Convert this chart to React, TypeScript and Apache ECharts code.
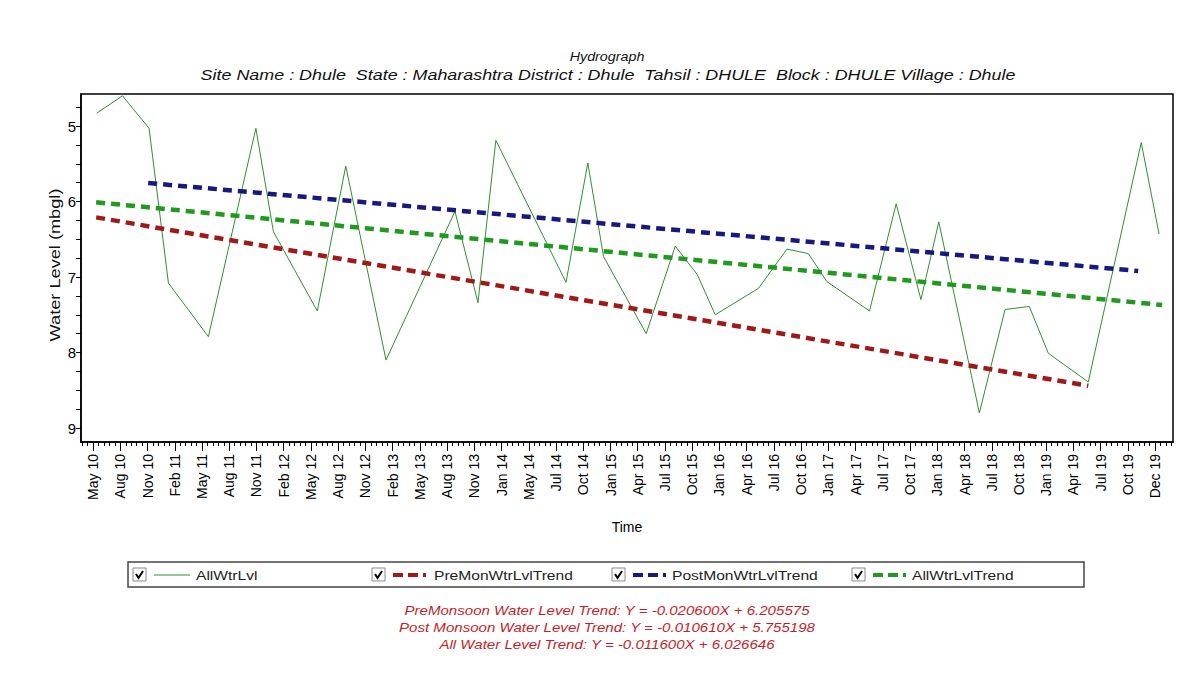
import React, { useEffect, useRef } from 'react';
import * as echarts from 'echarts';

const titleText = 'Hydrograph';
const subtitleText =
  'Site Name : Dhule  State : Maharashtra District : Dhule  Tahsil : DHULE  Block : DHULE Village : Dhule';

const tickLabels = [
  'May 10', 'Aug 10', 'Nov 10', 'Feb 11', 'May 11', 'Aug 11', 'Nov 11', 'Feb 12', 'May 12', 'Aug 12',
  'Nov 12', 'Feb 13', 'May 13', 'Aug 13', 'Nov 13', 'Jan 14', 'May 14', 'Jul 14', 'Oct 14', 'Jan 15',
  'Apr 15', 'Jul 15', 'Oct 15', 'Jan 16', 'Apr 16', 'Jul 16', 'Oct 16', 'Jan 17', 'Apr 17', 'Jul 17',
  'Oct 17', 'Jan 18', 'Apr 18', 'Jul 18', 'Oct 18', 'Jan 19', 'Apr 19', 'Jul 19', 'Oct 19', 'Dec 19',
];

const levelDates = [
  '2010-06-02', '2010-08-26', '2010-11-22', '2011-01-25', '2011-06-06', '2011-11-10', '2012-01-07',
  '2012-05-31', '2012-09-02', '2013-01-13', '2013-08-29', '2013-11-13', '2014-01-11', '2014-08-31',
  '2014-11-11', '2015-01-02', '2015-05-23', '2015-08-27', '2015-11-08', '2016-01-06', '2016-05-28',
  '2016-08-30', '2016-11-09', '2017-01-09', '2017-05-30', '2017-08-26', '2017-11-16', '2018-01-14',
  '2018-05-28', '2018-08-21', '2018-11-09', '2019-01-11', '2019-05-23', '2019-11-14', '2020-01-12',
];
const levelValues = [
  4.83, 4.6, 5.03, 7.08, 7.79, 5.03, 6.4,
  7.45, 5.53, 8.1, 6.13, 7.34, 5.19, 7.07,
  5.49, 6.73, 7.75, 6.59, 6.97, 7.5, 7.15,
  6.63, 6.69, 7.06, 7.45, 6.03, 7.3, 6.27,
  8.8, 7.43, 7.39, 8.01, 8.39, 5.22, 6.43,
];

const preMonTrendDates = ['2010-05-31', '2019-05-23'];
const preMonTrendValues = [6.21, 8.44];
const postMonTrendDates = ['2010-11-19', '2019-11-04'];
const postMonTrendValues = [5.755, 6.92];
const allTrendDates = ['2010-05-31', '2020-01-22'];
const allTrendValues = [6.01, 7.37];

const yLabelValues = [5, 6, 7, 8, 9];
const yTickValues = [4.75, 5, 5.25, 5.5, 5.75, 6, 6.25, 6.5, 6.75, 7, 7.25, 7.5, 7.75, 8, 8.25, 8.5, 8.75, 9];

const seriesNames = ['AllWtrLvl', 'PreMonWtrLvlTrend', 'PostMonWtrLvlTrend', 'AllWtrLvlTrend'];
const seriesColors = ['#2f8f2f', '#a01818', '#18187e', '#1f9a1f'];

const equations = [
  'PreMonsoon Water Level Trend: Y = -0.020600X + 6.205575',
  'Post Monsoon Water Level Trend: Y = -0.010610X + 5.755198',
  'All Water Level Trend: Y = -0.011600X + 6.026646',
];

const FONT = '"Liberation Sans", Arial, sans-serif';
const DAY = 86400000;

function toTime(s: string) {
  const [y, m, d] = s.split('-').map(Number);
  return new Date(y, m - 1, d).getTime();
}

function pairs(dates: string[], values: number[]) {
  return dates.map((d, i) => [toTime(d), values[i]]);
}

function buildOption() {
  const base = toTime('2010-05-21');
  const step = 90 * DAY;
  const tickValues = tickLabels.map((_, i) => base + i * step);
  const xMin = toTime('2010-04-11');
  const xMax = toTime('2020-02-27');
  const minorValues: number[] = [];
  for (let i = -1; i < tickLabels.length; i++) {
    for (let j = 1; j <= 4; j++) {
      const v = base + i * step + j * 18 * DAY;
      if (v > xMin && v < xMax) minorValues.push(v);
    }
  }

  const textStyle = (size: number, italic: boolean, color: string, align: string) => ({
    fontSize: size,
    fontFamily: FONT,
    fontStyle: italic ? 'italic' : 'normal',
    fill: color,
    align,
    textAlign: align,
    verticalAlign: 'middle',
    textVerticalAlign: 'middle',
  });

  const graphics: any[] = [
    { type: 'text', x: 607, y: 57, scaleX: 1.1, style: { text: titleText, ...textStyle(13, true, '#111', 'center') } },
    { type: 'text', x: 608, y: 75, scaleX: 1.28, style: { text: subtitleText, ...textStyle(14, true, '#111', 'center') } },
    {
      type: 'text', x: 55, y: 265, rotation: Math.PI / 2, scaleX: 1.3,
      style: { text: 'Water Level (mbgl)', ...textStyle(14, false, '#111', 'center') },
    },
    {
      type: 'rect', shape: { x: 128, y: 562, width: 956, height: 25 },
      style: { fill: '#fff', stroke: '#444', lineWidth: 1.5 },
    },
  ];

  const boxX = [133, 372, 612, 852];
  const sampleX1 = [154, 393, 633, 873];
  const sampleX2 = [190, 426, 666, 906];
  const textX = [196, 434, 672, 912];
  const ly = 575;
  seriesNames.forEach((name, i) => {
    graphics.push({
      type: 'rect', shape: { x: boxX[i], y: ly - 7, width: 13, height: 13 },
      style: { fill: '#fff', stroke: '#8a8a8a', lineWidth: 1 },
    });
    graphics.push({
      type: 'polyline',
      shape: { points: [[boxX[i] + 3, ly - 1], [boxX[i] + 5.5, ly + 3], [boxX[i] + 10, ly - 4]] },
      style: { stroke: '#000', lineWidth: 2, fill: 'none' },
    });
    graphics.push({
      type: 'line',
      shape: { x1: sampleX1[i], y1: ly, x2: sampleX2[i], y2: ly },
      style: i === 0
        ? { stroke: seriesColors[i], lineWidth: 1 }
        : { stroke: seriesColors[i], lineWidth: 4, lineDash: [10, 5] },
    });
    graphics.push({
      type: 'text', x: textX[i], y: ly, scaleX: 1.2,
      style: { text: name, ...textStyle(13, false, '#222', 'left') },
    });
  });

  const eqY = [610, 627, 644];
  equations.forEach((eq, i) => {
    graphics.push({
      type: 'text', x: 607, y: eqY[i], scaleX: 1.16,
      style: { text: eq, ...textStyle(13, true, '#c41e2a', 'center') },
    });
  });

  return {
    animation: false,
    backgroundColor: '#fff',
    grid: {
      left: 81, top: 94, width: 1092, height: 348,
      show: true, borderColor: '#000', borderWidth: 1.5, backgroundColor: '#fff',
    },
    xAxis: [
      {
        type: 'value', min: xMin, max: xMax, position: 'bottom',
        name: 'Time', nameLocation: 'middle', nameGap: 78,
        nameTextStyle: { fontSize: 14, fontFamily: FONT, color: '#000' },
        axisLine: { show: true, lineStyle: { color: '#000', width: 1.5 } },
        axisTick: { show: true, customValues: tickValues, length: 9, lineStyle: { color: '#000' } },
        axisLabel: {
          customValues: tickValues, rotate: 90, margin: 12, fontSize: 14, fontFamily: FONT, color: '#000',
          formatter: (v: number) => tickLabels[Math.round((v - base) / step)] ?? '',
        },
        splitLine: { show: false },
      },
      {
        type: 'value', min: xMin, max: xMax, position: 'bottom',
        axisLine: { show: false },
        axisTick: { show: true, customValues: minorValues, length: 4, lineStyle: { color: '#000' } },
        axisLabel: { show: false },
        splitLine: { show: false },
      },
    ],
    yAxis: {
      type: 'value', inverse: true, min: 4.576, max: 9.185,
      axisLine: { show: true, lineStyle: { color: '#000', width: 1.5 } },
      axisTick: { show: true, customValues: yTickValues, length: 5, lineStyle: { color: '#000' } },
      axisLabel: { customValues: yLabelValues, margin: 5, fontSize: 15, fontFamily: FONT, color: '#000' },
      splitLine: { show: false },
    },
    graphic: graphics,
    series: [
      {
        name: seriesNames[0], type: 'line', data: pairs(levelDates, levelValues), showSymbol: false,
        lineStyle: { color: seriesColors[0], width: 1 }, z: 2,
      },
      {
        name: seriesNames[1], type: 'line', data: pairs(preMonTrendDates, preMonTrendValues), showSymbol: false,
        lineStyle: { color: seriesColors[1], width: 4.5, type: [9, 6] }, z: 3,
      },
      {
        name: seriesNames[2], type: 'line', data: pairs(postMonTrendDates, postMonTrendValues), showSymbol: false,
        lineStyle: { color: seriesColors[2], width: 4.5, type: [9, 6] }, z: 3,
      },
      {
        name: seriesNames[3], type: 'line', data: pairs(allTrendDates, allTrendValues), showSymbol: false,
        lineStyle: { color: seriesColors[3], width: 4.5, type: [9, 6] }, z: 3,
      },
    ],
  };
}

export default function App() {
  const ref = useRef<HTMLDivElement>(null);
  useEffect(() => {
    if (!ref.current) return;
    const chart = echarts.init(ref.current, null, { renderer: 'svg' });
    chart.setOption(buildOption() as any);
    return () => chart.dispose();
  }, []);
  return <div ref={ref} style={{ position: 'absolute', left: 0, top: 0, width: 1203, height: 683 }} />;
}
